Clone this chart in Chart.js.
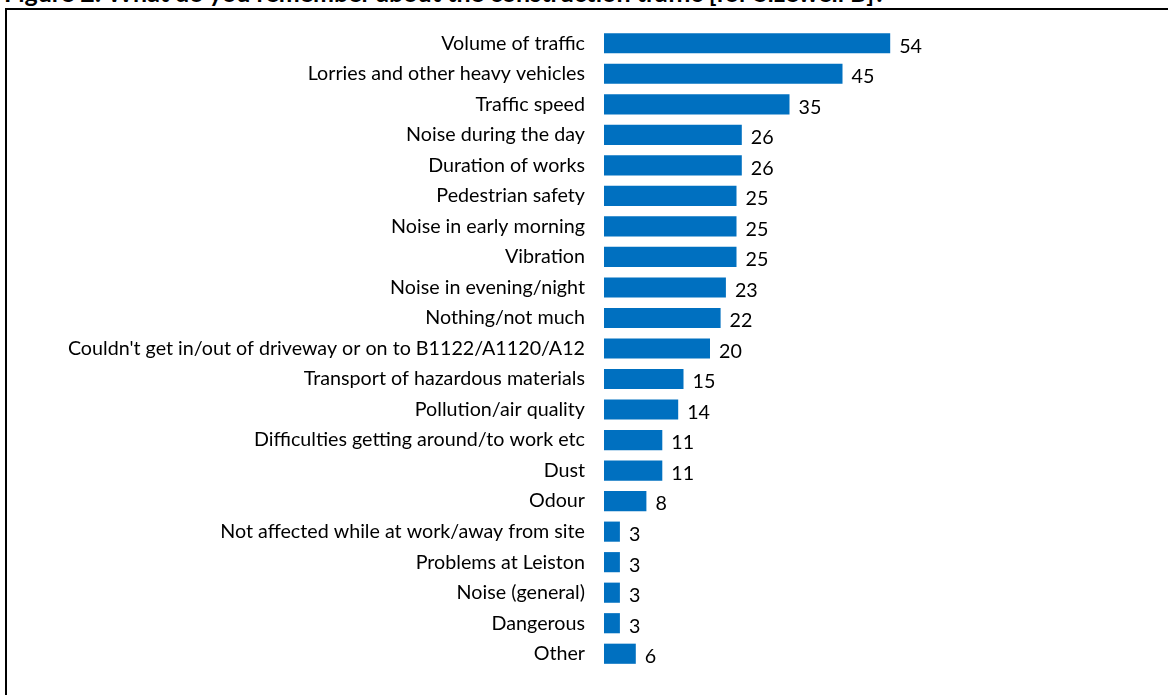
<!DOCTYPE html>
<html>
<head>
<meta charset="utf-8">
<script src="https://cdn.jsdelivr.net/npm/chart.js@4.4.1/dist/chart.umd.min.js"></script>
<style>
  html, body { margin: 0; padding: 0; background: #fff; overflow: hidden; }
  body { width: 1168px; height: 695px; position: relative; font-family: Lato, "Open Sans", sans-serif; }
  #title { position: absolute; left: 4px; top: -20px; font-size: 25px; line-height: 25px; font-weight: bold; color: #000; white-space: nowrap; }
  #frame { position: absolute; left: 5px; top: 8px; width: 1200px; height: 720px; border-left: 2px solid #000; border-top: 2px solid #000; }
  #chart { position: absolute; left: 0; top: 0; }
</style>
</head>
<body>
<div id="title">Figure 2: What do you remember about the construction traffic [for Sizewell B]?</div>
<div id="frame"></div>
<canvas id="chart" width="1168" height="695"></canvas>
<script>
// Survey responses, % of respondents
const categories = [
  'Volume of traffic',
  'Lorries and other heavy vehicles',
  'Traffic speed',
  'Noise during the day',
  'Duration of works',
  'Pedestrian safety',
  'Noise in early morning',
  'Vibration',
  'Noise in evening/night',
  'Nothing/not much',
  "Couldn't get in/out of driveway or on to B1122/A1120/A12",
  'Transport of hazardous materials',
  'Pollution/air quality',
  'Difficulties getting around/to work etc',
  'Dust',
  'Odour',
  'Not affected while at work/away from site',
  'Problems at Leiston',
  'Noise (general)',
  'Dangerous',
  'Other'
];
const values = [54, 45, 35, 26, 26, 25, 25, 25, 23, 22, 20, 15, 14, 11, 11, 8, 3, 3, 3, 3, 6];

const BAR_COLOR = '#0070c0';
const FONT = { family: 'Lato, "Open Sans", sans-serif', size: 19.7 };

// value labels drawn just past the end of each bar
const valueLabels = {
  id: 'valueLabels',
  afterDatasetsDraw(chart) {
    const ctx = chart.ctx;
    const meta = chart.getDatasetMeta(0);
    ctx.save();
    ctx.font = `${FONT.size}px ${FONT.family}`;
    ctx.fillStyle = '#000';
    ctx.textAlign = 'left';
    ctx.textBaseline = 'middle';
    meta.data.forEach((bar, i) => {
      ctx.fillText(String(values[i]), bar.x + 9, bar.y + 3);
    });
    ctx.restore();
  }
};

new Chart(document.getElementById('chart').getContext('2d'), {
  type: 'bar',
  data: {
    labels: categories,
    datasets: [{
      data: values,
      backgroundColor: BAR_COLOR,
      borderWidth: 0,
      categoryPercentage: 1,
      barPercentage: 0.66
    }]
  },
  options: {
    indexAxis: 'y',
    responsive: false,
    animation: false,
    devicePixelRatio: 1,
    layout: { padding: { top: 28, bottom: 26, left: 0, right: 34 } },
    plugins: { legend: { display: false }, tooltip: { enabled: false } },
    scales: {
      x: { display: false, min: 0, max: 100 },
      y: {
        grid: { display: false },
        border: { display: false },
        ticks: { color: '#000', font: FONT, padding: 11, autoSkip: false },
        afterFit: s => { s.width = 604; }
      }
    }
  },
  plugins: [valueLabels]
});
</script>
</body>
</html>
